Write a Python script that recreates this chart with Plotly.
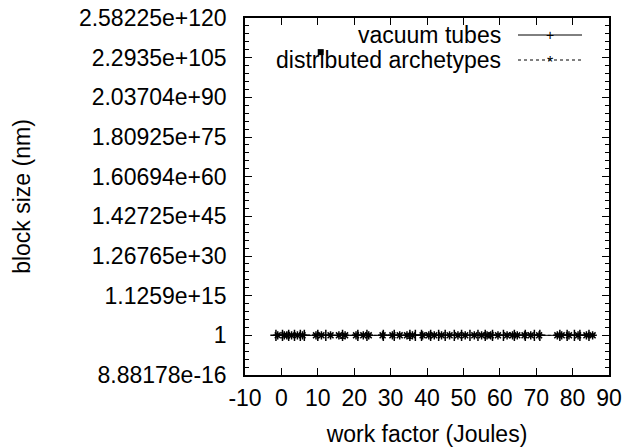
import plotly.graph_objects as go

# ---- data ----
vacuum_x = [-1.5, 0.3, 2.0, 3.6, 5.2, 6.3, 10.0, 12.2, 16.8, 21.0, 23.5, 28.0, 31.0,
            35.3, 36.8, 38.5, 41.0, 43.2, 45.0, 47.5, 49.5, 51.8, 54.0, 56.0, 58.0,
            61.0, 64.0, 67.0, 69.5, 71.0, 76.5, 78.5, 80.5, 82.0, 84.5]
vacuum_y = [1.0] * len(vacuum_x)
vacuum_err_minus = [0, 0, 0, 0, 0, 0, 0, 0, 0.93, 0, 0, 0, 0,
                    0.93, 0, 0, 0, 0, 0, 0, 0, 0, 0, 0, 0,
                    0, 0.6, 0, 0, 0, 0, 0, 0, 0, 0.6]
vacuum_err_plus = [0, 0, 0, 0, 0, 0, 0, 0, 2.0, 0, 0, 0, 0,
                   2.0, 0, 0, 0, 0, 0, 0, 0, 0, 0, 0, 0,
                   0, 1.0, 0, 0, 0, 0, 0, 0, 0, 1.0]

arch_x = [-1.0, 0.8, 1.5, 2.8, 4.4, 5.8, 9.5, 11.0, 13.5, 15.8, 17.5, 20.5, 22.5,
          24.0, 27.8, 30.5, 32.5, 34.5, 36.0, 38.8, 40.5, 42.0, 44.0, 46.2, 48.5,
          50.5, 53.0, 55.0, 56.5, 57.5, 59.5, 62.0, 63.5, 64.8, 66.8, 68.5, 70.8,
          75.8, 77.0, 79.0, 81.5, 83.8, 85.5]
arch_y = [1.0] * len(arch_x)

outlier_x = [10.8]
outlier_y = [2.0 ** 357]

y_tick_exp = [-50, 0, 50, 100, 150, 200, 250, 300, 350, 400]
y_tick_text = ["8.88178e-16", "1", "1.1259e+15", "1.26765e+30", "1.42725e+45",
               "1.60694e+60", "1.80925e+75", "2.03704e+90", "2.2935e+105", "2.58225e+120"]
y_minor_exp = [e for e in range(-50, 401, 10) if e % 50 != 0]

x_ticks = [-10, 0, 10, 20, 30, 40, 50, 60, 70, 80, 90]
x_tick_text = ["-10", "0", "10", "20", "30", "40", "50", "60", "70", "80", "90"]

key_labels = ["vacuum tubes", "distributed archetypes"]
key_dashes = ["solid", "dot"]
key_symbols = ["+", "*"]

FONT = "Liberation Sans"
FS = 23

# plot area in pixels
L, R, T, B = 245, 609, 18, 375
W, H = R - L, B - T


def px(x):
    return (x - L) / W


def py(y):
    return 1 - (y - T) / H


fig = go.Figure()
fig.add_trace(go.Scatter(
    x=vacuum_x, y=vacuum_y, mode="lines+markers", name="vacuum tubes",
    line=dict(color="black", width=1),
    marker=dict(symbol="cross-thin-open", size=8, color="black", line=dict(width=1.5, color="black")),
    error_y=dict(type="data", symmetric=False, array=vacuum_err_plus,
                 arrayminus=vacuum_err_minus, color="black", thickness=1, width=3),
    showlegend=False))
fig.add_trace(go.Scatter(
    x=arch_x, y=arch_y, mode="lines+markers", name="distributed archetypes",
    line=dict(color="black", width=1, dash="dot"),
    marker=dict(symbol="asterisk-open", size=7, color="black", line=dict(width=1.5, color="black")),
    showlegend=False))
fig.add_trace(go.Scatter(
    x=outlier_x, y=outlier_y, mode="markers",
    marker=dict(symbol="square", size=6, color="black"),
    showlegend=False))

annotations = []
key_rows = [35, 60]
for label, dash, sym, ky in zip(key_labels, key_dashes, key_symbols, key_rows):
    annotations.append(dict(x=px(503), y=py(ky), xref="paper", yref="paper", text=label,
                            showarrow=False, xanchor="right", yanchor="middle",
                            font=dict(family=FONT, size=FS, color="black")))
    annotations.append(dict(x=px(550), y=py(ky + (2 if sym == "*" else 0)), xref="paper", yref="paper",
                            text=sym, showarrow=False, xanchor="center", yanchor="middle",
                            font=dict(family=FONT, size=14 if sym == "+" else 16, color="black")))
    fig.add_shape(type="line", xref="paper", yref="paper",
                  x0=px(518), x1=px(582), y0=py(ky), y1=py(ky),
                  line=dict(color="black", width=1, dash=dash))

fig.update_layout(
    annotations=annotations,
    width=629, height=447,
    margin=dict(l=L, r=629 - R, t=T, b=447 - B, autoexpand=False),
    paper_bgcolor="white", plot_bgcolor="white",
    font=dict(family=FONT, size=FS, color="black"),
    xaxis=dict(
        range=[-10, 90], tickmode="array", tickvals=x_ticks, ticktext=x_tick_text,
        ticks="inside", ticklen=7, tickwidth=1, tickcolor="black",
        showline=True, linecolor="black", linewidth=1.5, mirror="ticks",
        showgrid=False, zeroline=False, ticklabelstandoff=2, automargin=False,
        title=dict(text="work factor (Joules)", standoff=18, font=dict(size=FS)),
        tickfont=dict(size=FS)),
    yaxis=dict(
        type="log", range=[-50 * 0.30103, 400 * 0.30103],
        tickmode="array", tickvals=[2.0 ** e for e in y_tick_exp], ticktext=y_tick_text,
        ticks="inside", ticklen=7, tickwidth=1, tickcolor="black",
        minor=dict(tickmode="array", tickvals=[2.0 ** e for e in y_minor_exp],
                   ticks="inside", ticklen=4, tickcolor="black", showgrid=False),
        showline=True, linecolor="black", linewidth=1.5, mirror="ticks",
        showgrid=False, zeroline=False, ticklabelstandoff=12, automargin=False,
        title=dict(text="block size (nm)", standoff=42, font=dict(size=FS)),
        tickfont=dict(size=FS)),
)

fig.write_html("out.html")
